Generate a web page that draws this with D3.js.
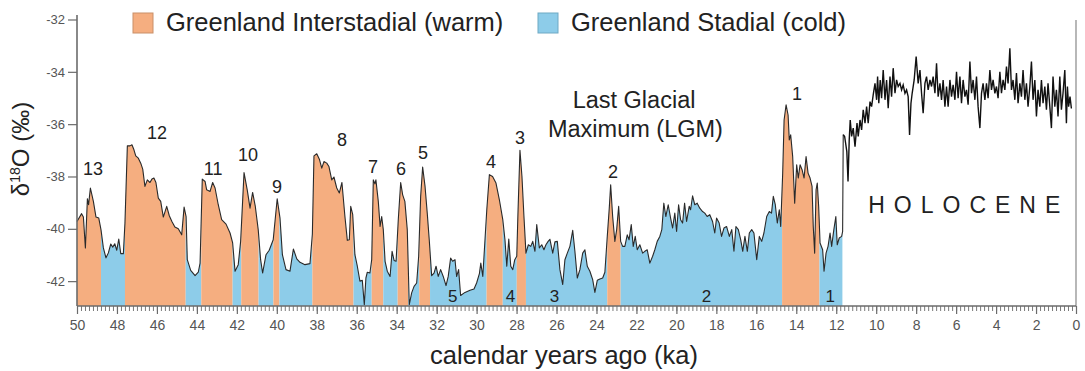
<!DOCTYPE html>
<html>
<head>
<meta charset="utf-8">
<script src="https://cdn.jsdelivr.net/npm/d3@7"></script>
<style>
  body { margin: 0; background: #fff; }
  svg { display: block; font-family: "Liberation Sans", Arial, sans-serif; }
</style>
</head>
<body>
<svg id="chart" width="1085" height="371"></svg>
<script>
// calendar age (ka) and d18O (per mil), glacial part 50 -> 11.6 ka
var glacialKa = [
  50.0, 49.77, 49.68, 49.58, 49.48, 49.42, 49.33, 49.18, 49.05, 48.91, 48.8, 48.68, 48.55, 48.43, 48.31, 48.21,
  48.11, 48.01, 47.91, 47.81, 47.68, 47.6, 47.48, 47.35, 47.25, 47.15, 47.06, 46.93, 46.81, 46.71, 46.6, 46.48,
  46.35, 46.25, 46.15, 46.05, 45.93, 45.81, 45.68, 45.51, 45.38, 45.25, 45.1, 44.93, 44.76, 44.64, 44.54, 44.48,
  44.31, 44.09, 43.93, 43.84, 43.73, 43.59, 43.51, 43.34, 43.21, 43.09, 42.93, 42.76, 42.54, 42.34, 42.21, 42.09,
  41.93, 41.81, 41.64, 41.48, 41.34, 41.21, 41.08, 40.93, 40.81, 40.71, 40.54, 40.38, 40.18, 39.98, 39.84, 39.72,
  39.54, 39.34, 39.17, 39.0, 38.84, 38.59, 38.34, 38.22, 38.14, 38.0, 37.87, 37.75, 37.64, 37.5, 37.39, 37.25,
  37.14, 37.0, 36.87, 36.74, 36.59, 36.47, 36.37, 36.3, 36.2, 36.09, 35.97, 35.84, 35.72, 35.62, 35.54, 35.47,
  35.34, 35.25, 35.17, 35.09, 35.04, 34.92, 34.83, 34.75, 34.67, 34.58, 34.47, 34.33, 34.23, 34.13, 34.03, 33.92,
  33.8, 33.7, 33.59, 33.47, 33.37, 33.25, 33.13, 33.0, 32.9, 32.8, 32.7, 32.58, 32.47, 32.37, 32.25, 32.13,
  32.03, 31.92, 31.8, 31.67, 31.53, 31.42, 31.3, 31.2, 31.08, 31.0, 30.9, 30.8, 30.58, 30.33, 30.13, 30.0,
  29.86, 29.79, 29.69, 29.59, 29.49, 29.36, 29.2, 29.03, 28.86, 28.69, 28.58, 28.49, 28.39, 28.29, 28.19, 28.09,
  27.99, 27.93, 27.83, 27.73, 27.63, 27.53, 27.41, 27.29, 27.19, 27.08, 26.99, 26.86, 26.74, 26.63, 26.53, 26.42,
  26.33, 26.19, 26.08, 25.96, 25.83, 25.69, 25.58, 25.46, 25.33, 25.19, 25.08, 24.96, 24.83, 24.69, 24.58, 24.46,
  24.33, 24.19, 24.08, 23.96, 23.83, 23.69, 23.58, 23.46, 23.36, 23.29, 23.19, 23.08, 22.99, 22.89, 22.79, 22.69,
  22.58, 22.46, 22.37, 22.26, 22.16, 22.06, 21.96, 21.83, 21.69, 21.58, 21.46, 21.33, 21.19, 21.08, 20.96, 20.83,
  20.73, 20.63, 20.53, 20.41, 20.29, 20.19, 20.08, 19.99, 19.89, 19.79, 19.69, 19.59, 19.49, 19.36, 19.29, 19.19,
  19.08, 18.96, 18.83, 18.69, 18.58, 18.46, 18.33, 18.19, 18.08, 17.99, 17.86, 17.74, 17.62, 17.49, 17.35, 17.23,
  17.12, 17.02, 16.9, 16.78, 16.68, 16.57, 16.45, 16.35, 16.23, 16.12, 15.98, 15.85, 15.73, 15.62, 15.48, 15.35,
  15.24, 15.15, 15.05, 14.95, 14.85, 14.78, 14.68, 14.61, 14.51, 14.41, 14.35, 14.28, 14.18, 14.08, 13.98, 13.9,
  13.81, 13.71, 13.61, 13.51, 13.41, 13.31, 13.21, 13.15, 13.08, 13.01, 12.95, 12.88, 12.81, 12.68, 12.61, 12.51,
  12.41, 12.31, 12.23, 12.12, 12.02, 11.95, 11.85, 11.73, 11.68
];
var glacialD18O = [
  -39.72, -39.42, -39.55, -40.73, -38.85, -39.08, -38.44, -38.95, -39.55, -39.59, -40.03, -40.73, -41.11, -40.92, -40.58, -40.70,
  -40.57, -40.82, -40.39, -40.95, -40.95, -39.78, -36.83, -36.83, -36.79, -36.98, -37.21, -37.30, -37.49, -37.72, -38.38, -38.13,
  -38.23, -38.10, -38.06, -38.23, -38.83, -38.95, -39.55, -39.14, -39.50, -39.72, -39.93, -40.00, -40.23, -39.17, -39.53, -41.18,
  -41.59, -41.79, -41.66, -41.31, -38.10, -38.19, -38.51, -38.57, -38.23, -38.44, -39.08, -39.65, -39.82, -40.16, -40.54, -41.62,
  -41.37, -40.48, -37.85, -38.51, -39.21, -38.61, -39.12, -40.03, -41.18, -41.69, -40.99, -40.82, -40.42, -38.85, -39.59, -40.99,
  -41.56, -41.62, -40.77, -41.15, -41.28, -41.37, -41.33, -40.20, -37.21, -37.13, -37.34, -37.68, -37.43, -37.49, -37.62, -38.13,
  -38.02, -38.44, -38.63, -38.23, -39.53, -40.44, -40.42, -39.14, -39.46, -40.99, -41.43, -42.00, -41.97, -42.90, -41.88, -41.66,
  -41.69, -41.18, -38.13, -38.28, -38.13, -38.95, -39.91, -39.53, -40.03, -41.24, -41.62, -41.82, -40.86, -41.21, -41.24, -39.65,
  -38.23, -38.70, -38.95, -40.03, -42.90, -42.45, -42.20, -42.07, -41.05, -38.76, -37.64, -38.38, -39.40, -40.42, -41.79, -41.69,
  -41.43, -41.82, -41.56, -41.82, -42.17, -41.82, -41.12, -41.24, -41.18, -41.82, -41.56, -42.55, -42.43, -42.35, -42.30, -42.07,
  -41.71, -41.31, -41.82, -40.54, -39.27, -37.93, -38.00, -38.25, -38.89, -39.65, -40.42, -41.43, -40.39, -41.43, -41.56, -41.18,
  -41.05, -39.40, -37.00, -38.00, -39.53, -40.93, -40.61, -40.67, -40.48, -40.86, -39.84, -40.73, -40.61, -40.80, -40.61, -40.48,
  -40.40, -40.93, -40.50, -40.48, -41.56, -42.13, -41.18, -40.93, -40.67, -40.06, -40.86, -41.88, -41.56, -40.93, -40.80, -41.43,
  -41.62, -41.94, -42.43, -41.97, -41.92, -41.88, -41.66, -40.29, -39.21, -38.32, -39.53, -40.48, -40.03, -39.14, -40.48, -40.67,
  -40.67, -40.23, -40.42, -39.84, -40.67, -40.29, -40.80, -40.61, -40.93, -40.86, -40.80, -41.31, -41.05, -40.80, -40.48, -40.29,
  -40.03, -39.02, -39.53, -39.08, -39.59, -39.97, -39.40, -40.10, -39.08, -39.65, -39.78, -39.02, -39.72, -39.14, -39.27, -38.74,
  -39.08, -39.02, -39.21, -39.34, -39.40, -39.53, -39.46, -39.72, -40.16, -39.59, -39.78, -40.29, -39.97, -39.91, -40.29, -40.03,
  -40.86, -39.91, -40.03, -40.42, -40.86, -40.29, -40.86, -40.16, -40.03, -40.16, -41.18, -40.29, -40.48, -40.16, -39.53, -39.34,
  -39.40, -38.76, -39.08, -39.78, -39.27, -39.91, -37.87, -35.84, -35.26, -35.65, -36.60, -36.41, -37.24, -39.02, -37.55, -38.06,
  -37.55, -37.74, -38.06, -37.24, -37.87, -38.06, -38.38, -39.91, -40.93, -38.51, -38.25, -39.14, -40.54, -40.80, -41.62, -40.93,
  -40.67, -40.16, -40.67, -40.03, -39.53, -40.61, -40.35, -40.29, -40.10
];
// Holocene part 11.65 -> 0.2 ka
var holoceneKa = [
  11.65, 11.58, 11.53, 11.47, 11.41, 11.35, 11.3, 11.23, 11.15, 11.06, 10.96, 10.9, 10.81, 10.73, 10.65, 10.56,
  10.48, 10.4, 10.31, 10.23, 10.15, 10.06, 9.98, 9.93, 9.87, 9.8, 9.73, 9.65, 9.56, 9.48, 9.4, 9.31,
  9.23, 9.15, 9.06, 8.98, 8.9, 8.81, 8.73, 8.65, 8.56, 8.48, 8.4, 8.33, 8.26, 8.2, 8.1, 8.0,
  7.9, 7.81, 7.73, 7.65, 7.56, 7.48, 7.4, 7.31, 7.23, 7.15, 7.06, 6.98, 6.9, 6.81, 6.73, 6.65,
  6.56, 6.48, 6.4, 6.31, 6.23, 6.15, 6.06, 5.98, 5.9, 5.81, 5.73, 5.65, 5.56, 5.48, 5.4, 5.31,
  5.23, 5.15, 5.06, 4.98, 4.9, 4.81, 4.73, 4.65, 4.56, 4.48, 4.4, 4.31, 4.23, 4.15, 4.06, 3.98,
  3.9, 3.81, 3.73, 3.65, 3.56, 3.48, 3.4, 3.31, 3.23, 3.15, 3.06, 2.98, 2.9, 2.81, 2.73, 2.65,
  2.56, 2.48, 2.4, 2.31, 2.23, 2.15, 2.06, 1.98, 1.9, 1.81, 1.73, 1.65, 1.56, 1.48, 1.4, 1.31,
  1.23, 1.15, 1.06, 0.98, 0.9, 0.81, 0.73, 0.65, 0.56, 0.48, 0.43, 0.37, 0.3, 0.23
];
var holoceneD18O = [
  -36.40, -36.47, -36.73, -37.05, -38.19, -36.60, -35.84, -36.47, -36.15, -36.86, -35.96, -36.47, -35.84, -36.22, -35.45, -35.96,
  -35.33, -35.96, -35.14, -35.33, -34.88, -34.44, -35.07, -34.18, -35.20, -34.31, -35.01, -33.93, -35.07, -34.31, -35.39, -34.18,
  -34.95, -33.86, -34.82, -34.31, -34.56, -34.44, -34.69, -34.50, -34.82, -34.69, -34.95, -36.41, -35.20, -34.82, -34.31, -33.42,
  -34.44, -33.93, -34.82, -35.58, -34.44, -34.18, -34.69, -34.31, -34.56, -34.18, -34.82, -33.67, -34.95, -34.44, -35.07, -34.31,
  -35.33, -34.56, -35.33, -34.31, -34.95, -34.50, -35.07, -34.00, -35.01, -34.18, -35.20, -34.31, -34.95, -34.69, -35.26, -33.61,
  -34.82, -34.31, -35.07, -34.18, -35.33, -36.15, -34.82, -34.44, -35.07, -34.44, -35.01, -33.93, -34.69, -34.31, -34.82, -34.56,
  -35.01, -34.00, -34.82, -34.31, -34.69, -33.80, -34.44, -33.10, -34.69, -34.31, -35.07, -34.05, -35.20, -34.44, -34.95, -33.93,
  -35.07, -34.44, -35.33, -34.56, -33.61, -35.07, -34.31, -35.71, -34.69, -35.33, -34.31, -35.20, -34.56, -35.45, -34.44, -35.33,
  -36.15, -34.18, -35.33, -34.69, -35.71, -34.18, -35.45, -34.82, -33.93, -35.96, -34.56, -35.33, -34.95, -35.40
];

// Greenland interstadial / stadial intervals (ka)
var intervalStart = [50.0, 48.8, 47.6, 44.56, 43.78, 42.21, 41.78, 40.91, 40.17, 39.87, 38.22, 36.16, 35.25, 34.67, 33.95, 33.42, 32.87, 32.33, 29.5, 28.69, 27.99, 27.53, 23.46, 22.79, 14.71, 12.84];
var intervalEnd   = [48.8, 47.6, 44.56, 43.78, 42.21, 41.78, 40.91, 40.17, 39.87, 38.22, 36.16, 35.25, 34.67, 33.95, 33.42, 32.87, 32.33, 29.5, 28.69, 27.99, 27.53, 23.46, 22.79, 14.71, 12.84, 11.68];
var intervalType  = ["GI", "GS", "GI", "GS", "GI", "GS", "GI", "GS", "GI", "GS", "GI", "GS", "GI", "GS", "GI", "GS", "GI", "GS", "GI", "GS", "GI", "GS", "GI", "GS", "GI", "GS"];

// interstadial numbers (placed at ka / d18O)
var giNames = ["13", "12", "11", "10", "9", "8", "7", "6", "5", "4", "3", "2", "1"];
var giKa    = [49.2, 46.0, 43.19, 41.44, 39.99, 36.74, 35.19, 33.78, 32.68, 29.28, 27.83, 23.17, 13.96];
var giD18O  = [-37.93, -36.55, -37.93, -37.39, -38.65, -36.85, -37.85, -37.93, -37.35, -37.66, -36.74, -38.04, -35.06];

// stadial numbers along the bottom
var gsNames = ["5", "4", "3", "2", "1"];
var gsKa    = [31.2, 28.3, 26.1, 18.5, 12.3];

var legendNames = ["Greenland Interstadial (warm)", "Greenland Stadial (cold)"];
var yTicks = [-32, -34, -36, -38, -40, -42];
var xTicks = [50, 48, 46, 44, 42, 40, 38, 36, 34, 32, 30, 28, 26, 24, 22, 20, 18, 16, 14, 12, 10, 8, 6, 4, 2, 0];

var colors = {GI: "#F5AE80", GS: "#8DCCE9"};

var svg = d3.select("#chart");

var x = d3.scaleLinear().domain([50, 0]).range([77, 1076]);
var y = d3.scaleLinear().domain([-42.95, -32]).range([306, 19.5]);

var glacial = glacialKa.map(function(k, i) { return {ka: k, v: glacialD18O[i]}; });
var holocene = holoceneKa.map(function(k, i) { return {ka: k, v: holoceneD18O[i]}; });

// coloured fills, one clip per interval
var defs = svg.append("defs");
var area = d3.area()
  .x(function(d) { return x(d.ka); })
  .y0(y(-42.95))
  .y1(function(d) { return y(d.v); });

intervalStart.forEach(function(s, i) {
  defs.append("clipPath").attr("id", "clip" + i)
    .append("rect")
    .attr("x", x(s))
    .attr("y", 0)
    .attr("width", x(intervalEnd[i]) - x(s))
    .attr("height", 371);

  svg.append("path")
    .datum(glacial)
    .attr("clip-path", "url(#clip" + i + ")")
    .attr("fill", colors[intervalType[i]])
    .attr("d", area);
});

// the record line
var line = d3.line()
  .x(function(d) { return x(d.ka); })
  .y(function(d) { return y(d.v); });

svg.append("path")
  .datum(glacial.concat(holocene.slice(0, 1)))
  .attr("fill", "none")
  .attr("stroke", "#2a2a2a")
  .attr("stroke-width", 1.1)
  .attr("stroke-linejoin", "round")
  .attr("d", line);

// holocene is noisier, drawn a bit heavier
svg.append("path")
  .datum(holocene)
  .attr("fill", "none")
  .attr("stroke", "#111")
  .attr("stroke-width", 1.4)
  .attr("d", line);

// axes
var axisColor = "#6b6b6b";

var yAxis = svg.append("g")
  .attr("transform", "translate(77,0)")
  .call(d3.axisLeft(y).tickValues(yTicks).tickSize(9).tickPadding(3).tickFormat(function(d) { return String(d); }));
yAxis.select(".domain").remove();
yAxis.selectAll(".tick line").attr("stroke", axisColor).attr("stroke-width", 1.2);
yAxis.selectAll(".tick text").attr("fill", "#555").style("font-size", "13px");
svg.append("line").attr("x1", 77).attr("x2", 77).attr("y1", 15).attr("y2", 306)
  .attr("stroke", axisColor).attr("stroke-width", 1.6);

// right border
svg.append("line").attr("x1", 1076).attr("x2", 1076).attr("y1", 20).attr("y2", 306)
  .attr("stroke", "#888").attr("stroke-width", 1.2);

var minorTicks = d3.range(0, 250).map(function(i) { return i / 5; });
var xMinor = svg.append("g")
  .attr("transform", "translate(0,306)")
  .call(d3.axisBottom(x).tickValues(minorTicks).tickSize(5).tickFormat(""));
xMinor.select(".domain").remove();
xMinor.selectAll(".tick line").attr("stroke", axisColor).attr("stroke-width", 0.9);

var xAxis = svg.append("g")
  .attr("transform", "translate(0,306)")
  .call(d3.axisBottom(x).tickValues(xTicks).tickSize(8).tickPadding(6).tickFormat(function(d) { return String(d); }));
xAxis.select(".domain").remove();
xAxis.selectAll(".tick line").attr("stroke", axisColor).attr("stroke-width", 1.2);
xAxis.selectAll(".tick text").attr("fill", "#555").style("font-size", "14px");
svg.append("line").attr("x1", 77).attr("x2", 1076).attr("y1", 306).attr("y2", 306)
  .attr("stroke", axisColor).attr("stroke-width", 1.6);

// axis titles
svg.append("text")
  .attr("x", 564).attr("y", 364)
  .attr("text-anchor", "middle")
  .attr("fill", "#222")
  .style("font-size", "25.5px")
  .text("calendar years ago (ka)");

var yTitle = svg.append("text")
  .attr("transform", "translate(29,149) rotate(-90)")
  .attr("text-anchor", "middle")
  .attr("fill", "#222")
  .style("font-size", "24px");
yTitle.append("tspan").text("δ");
yTitle.append("tspan").attr("dy", -9).style("font-size", "14px").text("18");
yTitle.append("tspan").attr("dy", 9).text("O (‰)");

// interval numbers
svg.selectAll(".gi-label")
  .data(giNames)
  .enter().append("text")
  .attr("class", "gi-label")
  .attr("x", function(d, i) { return x(giKa[i]); })
  .attr("y", function(d, i) { return y(giD18O[i]); })
  .attr("text-anchor", "middle")
  .attr("fill", "#222")
  .style("font-size", "18px")
  .text(function(d) { return d; });

svg.selectAll(".gs-label")
  .data(gsNames)
  .enter().append("text")
  .attr("class", "gs-label")
  .attr("x", function(d, i) { return x(gsKa[i]); })
  .attr("y", 302)
  .attr("text-anchor", "middle")
  .attr("fill", "#222")
  .style("font-size", "17px")
  .text(function(d) { return d; });

// LGM and Holocene notes
var lgm = svg.append("text")
  .attr("text-anchor", "middle")
  .attr("fill", "#222")
  .style("font-size", "23.5px");
lgm.append("tspan").attr("x", x(22.12)).attr("y", 108).text("Last Glacial");
lgm.append("tspan").attr("x", x(22.05)).attr("y", 137).text("Maximum (LGM)");

svg.append("text")
  .attr("x", x(10.4)).attr("y", 213)
  .attr("fill", "#222")
  .style("font-size", "23px")
  .style("letter-spacing", "9px")
  .text("HOLOCENE");

// legend
var legend = svg.append("g");
var legendX = [133, 538];
legendNames.forEach(function(name, i) {
  legend.append("rect")
    .attr("x", legendX[i]).attr("y", 13)
    .attr("width", 20).attr("height", 20)
    .attr("fill", i === 0 ? colors.GI : colors.GS)
    .attr("stroke", i === 0 ? "#c98f68" : "#6fa9c4")
    .attr("stroke-width", 1);
  legend.append("text")
    .attr("x", legendX[i] + 33).attr("y", 31)
    .attr("fill", "#222")
    .style("font-size", "25.5px")
    .text(name);
});
</script>
</body>
</html>
